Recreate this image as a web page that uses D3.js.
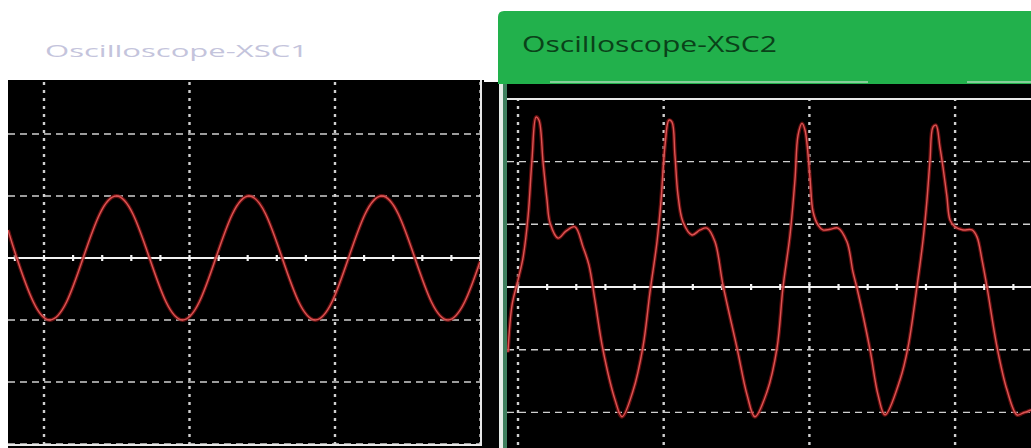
<!DOCTYPE html>
<html>
<head>
<meta charset="utf-8">
<script src="https://cdn.jsdelivr.net/npm/d3@7/dist/d3.min.js"></script>
<style>
  html, body { margin: 0; padding: 0; background: #ffffff; }
  svg { display: block; }
</style>
</head>
<body>
<svg id="chart" width="1031" height="448"></svg>
<script>
// ---------- DATA (time in divisions, voltage in divisions) ----------
const titles = ["Oscilloscope-XSC1", "Oscilloscope-XSC2"];

// XSC1 trace: sine wave
const xsc1Time = [-0.247, -0.187, -0.073, 0.041, 0.155, 0.269, 0.383, 0.497, 0.611, 0.725,
  0.839, 0.953, 1.067, 1.181, 1.295, 1.409, 1.523, 1.637, 1.751, 1.865,
  1.979, 2.093, 2.207, 2.321, 2.435, 2.549, 2.663, 2.777, 2.891, 2.997];
const xsc1Volt = [0.45, 0, -0.71, -1, -0.71, 0, 0.71, 1, 0.71, 0,
  -0.71, -1, -0.71, 0, 0.71, 1, 0.71, 0, -0.71, -1,
  -0.71, 0, 0.71, 1, 0.71, 0, -0.71, -1, -0.71, -0.06];

// XSC2 trace: distorted wave with sharp peak and shoulder
const xsc2Time = [-0.069, -0.041, 0, 0.034, 0.069, 0.096, 0.124, 0.144, 0.172, 0.199,
  0.220, 0.275, 0.329, 0.391, 0.446, 0.487, 0.528, 0.583, 0.666, 0.714,
  0.789, 0.858, 0.906, 0.954, 0.981, 1.009, 1.036, 1.057, 1.077, 1.098,
  1.132, 1.194, 1.249, 1.297, 1.352, 1.407, 1.503, 1.572, 1.626, 1.709,
  1.778, 1.819, 1.867, 1.901, 1.922, 1.949, 1.970, 2.004, 2.025, 2.059,
  2.093, 2.141, 2.196, 2.258, 2.299, 2.327, 2.416, 2.471, 2.519, 2.622,
  2.677, 2.738, 2.780, 2.807, 2.828, 2.848, 2.869, 2.896, 2.917, 2.944,
  2.965, 2.999, 3.054, 3.116, 3.150, 3.185, 3.219, 3.288, 3.356, 3.425,
  3.466, 3.521];
const xsc2Volt = [-1.04, -0.29, 0.11, 0.46, 1.12, 2.03, 2.71, 2.66, 1.99, 1.39,
  1.02, 0.78, 0.89, 0.96, 0.64, 0.35, -0.21, -1.00, -1.80, -2.07,
  -1.66, -0.95, -0.08, 0.72, 1.36, 2.26, 2.66, 2.63, 2.11, 1.47,
  1.04, 0.83, 0.91, 0.94, 0.72, 0.03, -0.97, -1.72, -2.07, -1.67,
  -0.97, 0, 0.83, 1.71, 2.42, 2.61, 2.50, 1.74, 1.20, 0.99,
  0.91, 0.92, 0.94, 0.72, 0.24, -0.02, -1.00, -1.72, -2.04, -1.48,
  -0.96, 0, 0.75, 1.39, 2.03, 2.55, 2.58, 2.23, 1.91, 1.44,
  1.07, 0.96, 0.91, 0.91, 0.80, 0.43, 0, -0.96, -1.64, -2.04,
  -2.01, -1.96];

const gridTime = [0, 1, 2, 3];
const gridVolt = [-3, -2, -1, 1, 2];
const minorStep = 0.2;

// ---------- DRAWING ----------
const svg = d3.select("#chart");
const GRID = "#cfcfcf";

function scope(g, x, y, clipId, clip, timeVals, voltVals, tMin, tMax, curve) {
  g.append("clipPath").attr("id", clipId).append("rect")
    .attr("x", clip[0]).attr("y", clip[1]).attr("width", clip[2]).attr("height", clip[3]);
  const inner = g.append("g").attr("clip-path", `url(#${clipId})`);

  inner.selectAll("line.h").data(gridVolt).join("line")
    .attr("x1", clip[0]).attr("x2", clip[0] + clip[2])
    .attr("y1", d => y(d)).attr("y2", d => y(d))
    .attr("stroke", GRID).attr("stroke-width", 1.4)
    .attr("stroke-dasharray", "7,5");

  inner.selectAll("line.v").data(gridTime).join("line")
    .attr("x1", d => x(d)).attr("x2", d => x(d))
    .attr("y1", clip[1]).attr("y2", clip[1] + clip[3])
    .attr("stroke", GRID).attr("stroke-width", 2.4)
    .attr("stroke-dasharray", "3,5");

  inner.append("line")
    .attr("x1", clip[0]).attr("x2", clip[0] + clip[2])
    .attr("y1", y(0)).attr("y2", y(0))
    .attr("stroke", "#f2f2f2").attr("stroke-width", 2);
  const ticks = d3.range(Math.ceil(tMin / minorStep), Math.floor(tMax / minorStep) + 1).map(k => k * minorStep);
  inner.selectAll("line.t").data(ticks).join("line")
    .attr("x1", d => x(d)).attr("x2", d => x(d))
    .attr("y1", y(0) - 3).attr("y2", y(0) + 3)
    .attr("stroke", "#f2f2f2").attr("stroke-width", 2.2);

  const pts = timeVals.map((t, i) => [t, voltVals[i]]);
  const line = d3.line().x(d => x(d[0])).y(d => y(d[1])).curve(curve);
  inner.append("path").attr("d", line(pts))
    .attr("fill", "none").attr("stroke", "#8c1414").attr("stroke-width", 3.8)
    .attr("stroke-opacity", 0.7).attr("stroke-linejoin", "round");
  inner.append("path").attr("d", line(pts))
    .attr("fill", "none").attr("stroke", "#de5454").attr("stroke-width", 1.4)
    .attr("stroke-linejoin", "round");
}

// ----- Left scope (XSC1) -----
svg.append("text").text(titles[0])
  .attr("x", 45).attr("y", 57)
  .attr("font-family", "'Open Sans', sans-serif").attr("font-size", 17)
  .attr("fill", "#c4c4dc")
  .attr("textLength", 263).attr("lengthAdjust", "spacingAndGlyphs");

svg.append("rect").attr("x", 8).attr("y", 80).attr("width", 476).attr("height", 368).attr("fill", "#000");
svg.append("rect").attr("x", 482).attr("y", 82).attr("width", 18).attr("height", 366).attr("fill", "#030303");

const xL = d3.scaleLinear().domain([0, 1]).range([44, 189.5]);
const yL = d3.scaleLinear().domain([0, 1]).range([258, 196]);
scope(svg.append("g"), xL, yL, "clipL", [8, 82, 472, 363], xsc1Time, xsc1Volt, -0.25, 3.0, d3.curveNatural);
svg.append("line").attr("x1", 481).attr("x2", 481).attr("y1", 80).attr("y2", 446)
  .attr("stroke", "#e8e8e8").attr("stroke-width", 2);
svg.append("line").attr("x1", 8).attr("x2", 482).attr("y1", 445).attr("y2", 445)
  .attr("stroke", "#e8e8e8").attr("stroke-width", 2);

// ----- Right scope (XSC2) -----
const hx = 498, hy = 11, hw = 1031 - 498, hh = 73, r = 6;
svg.append("path")
  .attr("d", `M${hx},${hy + hh} L${hx},${hy + r} Q${hx},${hy} ${hx + r},${hy} L${hx + hw},${hy} L${hx + hw},${hy + hh} Z`)
  .attr("fill", "#22b14c");
svg.append("text").text(titles[1])
  .attr("x", 522).attr("y", 52)
  .attr("font-family", "'Open Sans', sans-serif").attr("font-size", 21)
  .attr("font-weight", 500)
  .attr("fill", "#0a4219")
  .attr("textLength", 255).attr("lengthAdjust", "spacingAndGlyphs");
svg.append("line").attr("x1", 550).attr("x2", 868).attr("y1", 82).attr("y2", 82)
  .attr("stroke", "#a9d9b3").attr("stroke-width", 1.5);
svg.append("line").attr("x1", 967).attr("x2", 1031).attr("y1", 82).attr("y2", 82)
  .attr("stroke", "#a9d9b3").attr("stroke-width", 1.5);

svg.append("rect").attr("x", 499).attr("y", 84).attr("width", 532).attr("height", 364).attr("fill", "#000");
svg.append("rect").attr("x", 499).attr("y", 84).attr("width", 4).attr("height", 364).attr("fill", "#e6ece8");
svg.append("rect").attr("x", 503).attr("y", 84).attr("width", 4).attr("height", 364).attr("fill", "#3f7f5e");

const xR = d3.scaleLinear().domain([0, 1]).range([518, 663.7]);
const yR = d3.scaleLinear().domain([0, 1]).range([287, 224.3]);
scope(svg.append("g"), xR, yR, "clipR", [507, 98, 524, 350], xsc2Time, xsc2Volt, -0.07, 3.52, d3.curveCatmullRom.alpha(0.5));
svg.append("line").attr("x1", 507).attr("x2", 1031).attr("y1", yR(3)).attr("y2", yR(3))
  .attr("stroke", "#e8e8e8").attr("stroke-width", 2);
</script>
</body>
</html>
